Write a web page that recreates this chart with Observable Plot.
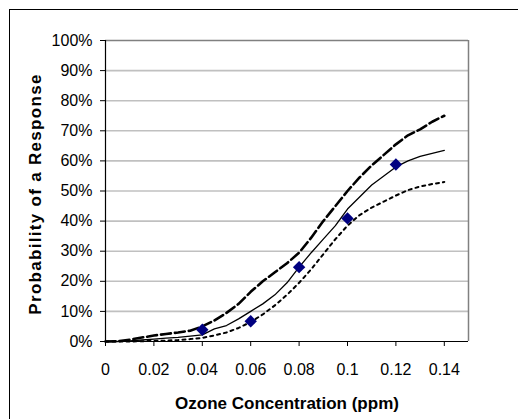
<!DOCTYPE html>
<html><head><meta charset="utf-8">
<script src="https://cdn.jsdelivr.net/npm/d3@7"></script>
<script src="https://cdn.jsdelivr.net/npm/@observablehq/plot@0.6"></script>
<style>
html,body{margin:0;padding:0;background:#fff;overflow:hidden;}
#wrap{position:relative;width:518px;height:419px;overflow:hidden;background:#fff;}
#frame{position:absolute;left:9px;top:9px;width:600px;height:600px;border:1px solid #000;box-sizing:border-box;}
#chart{position:absolute;left:0;top:0;}
</style></head><body>
<div id="wrap"><div id="frame"></div><div id="chart"></div></div>
<script>
// Ozone concentration (ppm) grid for the modelled curves
const conc = [0,0.005,0.01,0.015,0.02,0.025,0.03,0.035,0.04,0.045,0.05,0.055,0.06,0.065,0.07,0.075,0.08,0.085,0.09,0.095,0.10,0.105,0.11,0.115,0.12,0.125,0.13,0.135,0.14];
// Probability of a response (%)
const upper  = [0,0.1,0.6,1.3,2.0,2.5,3.0,3.6,5.0,7.0,9.5,12.5,16.5,20.0,23.0,26.0,29.5,34.5,40.0,45.0,50.0,54.5,58.5,62.0,65.5,68.5,70.5,73.0,75.0];
const median = [0,0,0.2,0.5,0.8,1.1,1.4,1.8,2.2,4.2,5.3,7.5,10.0,12.5,15.5,19.5,24.7,29.5,34.0,38.5,44.0,48.0,52.0,55.0,58.0,60.0,61.5,62.5,63.5];
const lower  = [0,0,0,0.1,0.2,0.3,0.5,0.8,1.2,2.0,3.0,4.5,6.5,9.0,12.0,15.5,19.5,24.0,29.0,34.0,38.5,42.0,44.5,46.5,48.5,50.3,51.5,52.3,53.0];
// Observed responses
const obsConc = [0.04,0.06,0.08,0.10,0.12];
const obsResp = [3.9,6.7,24.7,40.9,58.8];
// Tick labels
const xTicks = [0,0.02,0.04,0.06,0.08,0.10,0.12,0.14];
const xTickLabels = ["0","0.02","0.04","0.06","0.08","0.1","0.12","0.14"];
const yTicks = [0,10,20,30,40,50,60,70,80,90,100];
const yTickLabels = ["0%","10%","20%","30%","40%","50%","60%","70%","80%","90%","100%"];
const xTitle = "Ozone Concentration (ppm)";
const yTitle = "Probability of a Response";

const rows = (ys) => conc.map((c, i) => ({x: c, y: ys[i]}));
const obs = obsConc.map((c, i) => ({x: c, y: obsResp[i]}));

const chart = Plot.plot({
  width: 518, height: 419,
  marginLeft: 105, marginRight: 50, marginTop: 40, marginBottom: 78,
  style: {fontFamily: "'Liberation Sans', Arial, sans-serif", fontSize: "16px", color: "#000", background: "transparent"},
  x: {domain: [0, 0.15]},
  y: {domain: [0, 100]},
  marks: [
    Plot.frame({fill: "#fff", stroke: "none"}),
    Plot.gridY(yTicks.filter(d => d > 0 && d < 100), {stroke: "#c0c0c0", strokeOpacity: 1, strokeWidth: 1.6}),
    Plot.ruleY([100], {stroke: "#808080", strokeWidth: 1.5}),
    Plot.ruleX([0.15], {stroke: "#808080", strokeWidth: 1.5}),
    Plot.axisY(yTicks, {tickFormat: (d) => yTickLabels[yTicks.indexOf(d)], tickSize: 5, tickPadding: 8, label: null, stroke: "#000", fill: "#000"}),
    Plot.axisX(xTicks, {tickFormat: (d) => xTickLabels[xTicks.indexOf(d)], tickSize: 5, tickPadding: 17, label: null, stroke: "#000", fill: "#000"}),
    Plot.ruleY([0], {stroke: "#000", strokeWidth: 1.2}),
    Plot.ruleX([0], {stroke: "#000", strokeWidth: 1.2}),
    Plot.line(rows(lower), {x: "x", y: "y", stroke: "#000", strokeWidth: 2, strokeDasharray: "3,4"}),
    Plot.line(rows(upper), {x: "x", y: "y", stroke: "#000", strokeWidth: 2.6, strokeDasharray: "10,4"}),
    Plot.line(rows(median), {x: "x", y: "y", stroke: "#000", strokeWidth: 1.3}),
    Plot.dot(obs, {x: "x", y: "y", symbol: "diamond2", r: 5.6, fill: "#000080", stroke: "none"}),
    Plot.text([xTitle], {frameAnchor: "bottom", dy: 62, text: d => d, fontWeight: "bold", fontSize: 17, fill: "#000", textAnchor: "middle", lineAnchor: "middle"}),
    Plot.text([yTitle], {frameAnchor: "left", dx: -70, dy: 3, rotate: -90, text: d => d, fontWeight: "bold", fontSize: 17, fill: "#000", textAnchor: "middle", lineAnchor: "middle"})
  ]
});
d3.select(chart).selectAll("text").filter(function() { return this.textContent === yTitle; }).attr("letter-spacing", "1.3px");
document.getElementById("chart").appendChild(chart);
</script>
</body></html>
